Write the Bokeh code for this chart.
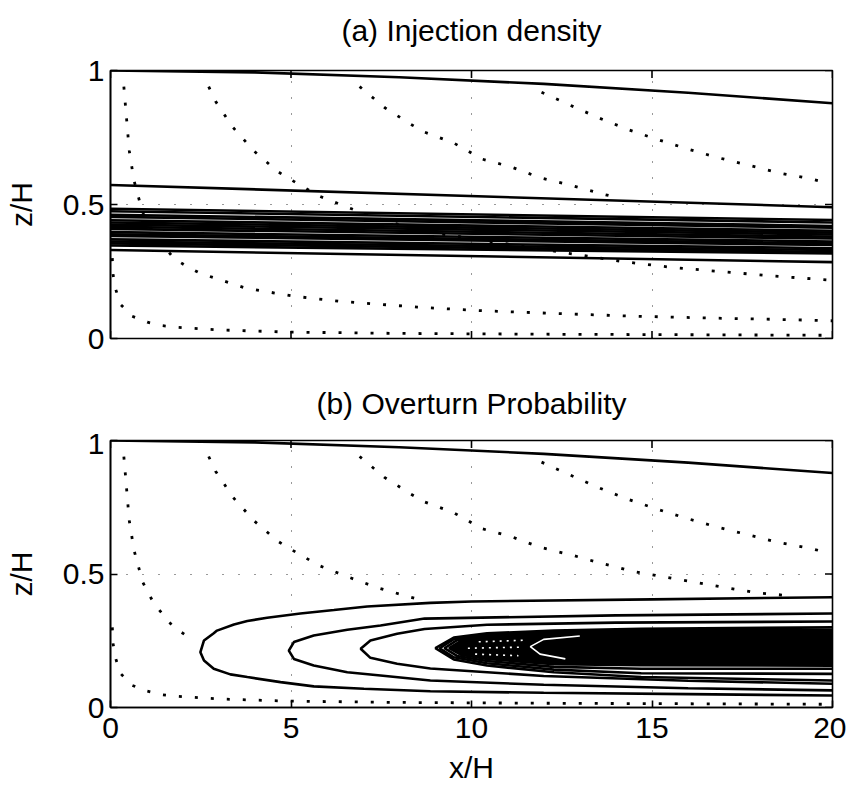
import numpy as np
from bokeh.plotting import figure
from bokeh.layouts import column
from bokeh.models import Range1d, FixedTicker
from bokeh.core.properties import value
from bokeh.embed import file_html
from bokeh.resources import INLINE

FONT = "Liberation Sans"

# ---------------- axes ----------------
x_ticks = [0, 5, 10, 15, 20]
z_ticks = [0, 0.5, 1]
z_tick_labels = {0: "0", 0.5: "0.5", 1: "1"}
x_tick_labels = {0: "0", 5: "5", 10: "10", 15: "15", 20: "20"}
titles = ["(a) Injection density", "(b) Overturn Probability"]

# ---------------- contour shared by both panels (upper boundary) ----------------
top_x = [0, 4, 8, 12, 16, 20]
top_z = [1.0, 0.993, 0.975, 0.950, 0.917, 0.878]

# ---------------- panel (a): injection density contours, height at x=0 and x=20 ----
inj_x = [0, 20]
inj_z0 = [0.573, 0.484, 0.475, 0.462, 0.454, 0.441, 0.433, 0.425, 0.417, 0.409,
          0.397, 0.389, 0.383, 0.370, 0.362, 0.355, 0.347, 0.330]
inj_z20 = [0.490, 0.442, 0.433, 0.420, 0.413, 0.402, 0.395, 0.388, 0.380, 0.373,
           0.362, 0.355, 0.349, 0.337, 0.330, 0.323, 0.317, 0.285]

# ---------------- panel (b): overturn probability contours ----------------
ov1_x = [20, 15, 10, 8.86, 7.11, 6.19, 5.26, 4.34, 3.79, 3.42, 2.95, 2.86, 2.59, 2.49,
         2.59, 2.86, 3.32, 3.79, 4.71, 5.63, 7.02, 8.86, 12, 16, 20]
ov1_z = [0.413, 0.405, 0.397, 0.392, 0.378, 0.365, 0.352, 0.336, 0.324, 0.311, 0.288, 0.278, 0.251, 0.207,
         0.176, 0.145, 0.124, 0.114, 0.095, 0.079, 0.070, 0.061, 0.055, 0.050, 0.045]
ov2_x = [20, 14, 8.7, 7.48, 6.56, 5.63, 5.08, 4.94, 5.08, 5.63, 6.56, 7.48, 8.86, 12, 16, 20]
ov2_z = [0.352, 0.345, 0.333, 0.307, 0.291, 0.270, 0.245, 0.213, 0.182, 0.157, 0.132, 0.120, 0.101, 0.085, 0.072, 0.064]
ov3_x = [20, 14, 10.43, 8.7, 7.94, 7.2, 6.93, 7.2, 7.94, 8.86, 12, 16, 20]
ov3_z = [0.322, 0.318, 0.310, 0.294, 0.276, 0.251, 0.220, 0.186, 0.164, 0.146, 0.118, 0.100, 0.089]
ov4_x = [20, 14.7, 12.28, 10.43, 9.51, 9.0, 9.51, 10.43, 12.28, 14.7, 20]
ov4_z = [0.300, 0.295, 0.288, 0.278, 0.262, 0.222, 0.180, 0.157, 0.132, 0.114, 0.101]
ov5_x = [20, 14.7, 12.28, 10.43, 9.51, 9.12, 9.51, 10.43, 12.28, 14.7, 20]
ov5_z = [0.290, 0.289, 0.283, 0.272, 0.256, 0.222, 0.188, 0.166, 0.142, 0.128, 0.126]
ov6_x = [20, 14.7, 12.28, 10.43, 9.6, 9.25, 9.6, 10.43, 12.28, 14.7, 20]
ov6_z = [0.285, 0.285, 0.280, 0.268, 0.252, 0.222, 0.193, 0.174, 0.152, 0.145, 0.145]
# dense core where contours merge
core_x = [20, 14.7, 12.28, 10.43, 9.7, 9.38, 9.7, 10.43, 12.28, 14.7, 20]
core_z = [0.282, 0.281, 0.277, 0.264, 0.249, 0.222, 0.198, 0.182, 0.162, 0.158, 0.157]
# light gaps inside the core
gap_arc_x = [13.0, 12.0, 11.63, 11.9, 12.6]
gap_arc_z = [0.268, 0.255, 0.228, 0.200, 0.182]
speck_x = [[9.9, 11.4], [10.2, 11.5], [10.1, 11.3]]
speck_z = [[0.222, 0.226], [0.246, 0.252], [0.200, 0.194]]

# ---------------- dotted flow lines ----------------
sA_head_x = [0.37, 0.52, 0.65, 0.89, 1.20, 1.75, 2.10]
sA_head_z = [0.94, 0.70, 0.59, 0.47, 0.39, 0.30, 0.27]
sA_tail_x = [2.47, 3.72, 5.01, 6.32, 7.62, 8.50, 10.23, 12.40, 14.56, 16.73, 18.90, 20.0]
sA_tail_z = [0.244, 0.189, 0.159, 0.139, 0.126, 0.117, 0.104, 0.093, 0.083, 0.076, 0.070, 0.066]
sB_head_x = [2.72, 2.91, 3.39, 3.97, 4.63, 5.03, 5.77, 6.60, 7.43, 8.24, 8.68]
sB_head_z = [0.94, 0.885, 0.788, 0.70, 0.623, 0.59, 0.532, 0.488, 0.447, 0.416, 0.40]
sB_tail_x = [14.2, 15.5, 16.8, 18.1, 20.0]
sB_tail_z = [0.287, 0.266, 0.251, 0.236, 0.217]
sC_head_x = [6.9, 7.59, 8.31, 8.7, 9.1, 9.5, 9.9, 10.28, 11.1, 11.9, 12.8, 13.6, 14.0]
sC_head_z = [0.94, 0.862, 0.80, 0.77, 0.75, 0.73, 0.70, 0.67, 0.64, 0.60, 0.57, 0.54, 0.527]
sC_tail_x = [14.45, 15.3, 16.15, 17.0, 17.9, 18.7]
sC_tail_z = [0.51, 0.49, 0.47, 0.45, 0.43, 0.42]
sD_x = [11.94, 12.71, 13.53, 14.33, 15.14, 15.97, 16.82, 17.66, 18.51, 19.39, 19.8]
sD_z = [0.919, 0.872, 0.823, 0.78, 0.743, 0.708, 0.675, 0.647, 0.618, 0.596, 0.582]
sW_x = [0.05, 0.07, 0.14, 0.28, 0.60, 1.02, 1.43, 1.85, 3.0, 4.9, 8.0, 12.0, 16.0, 20.0]
sW_z = [0.30, 0.24, 0.185, 0.127, 0.083, 0.061, 0.048, 0.042, 0.032, 0.024, 0.019, 0.016, 0.014, 0.012]

LW = 2.6
DOT = dict(line_color="black", line_width=2.8, line_dash="3 13")
TICK = dict(line_color="black", line_width=1.6, size=15, fill_color=None)


def make_title(text):
    """A slim strip above each panel, aligned with the panel frame, carrying its title."""
    t = figure(frame_width=722, frame_height=60,
               x_range=Range1d(0, 20), y_range=Range1d(0, 1),
               x_axis_type=None, y_axis_type=None,
               output_backend="svg", toolbar_location=None,
               min_border_left=110, min_border_right=14,
               min_border_top=0, min_border_bottom=0,
               background_fill_color="white", border_fill_color="white")
    t.outline_line_color = None
    t.grid.visible = False
    t.text(x=[10], y=[0.5], text=[text], text_align="center", text_baseline="middle",
           text_font=value(FONT), text_font_size=value("30px"), text_color="black")
    return t


def make_fig(frame_h, show_x_axis, top_border, bottom_border):
    p = figure(frame_width=722, frame_height=frame_h,
               x_range=Range1d(0, 20), y_range=Range1d(0, 1),
               output_backend="svg", toolbar_location=None,
               min_border_left=110, min_border_right=14,
               min_border_top=top_border, min_border_bottom=bottom_border,
               background_fill_color="white", border_fill_color="white")
    p.outline_line_color = "black"
    p.outline_line_width = 1.6
    p.outline_line_alpha = 1.0

    xa = p.xaxis[0]
    xa.ticker = FixedTicker(ticks=x_ticks)
    xa.major_label_overrides = x_tick_labels
    ya = p.yaxis[0]
    ya.ticker = FixedTicker(ticks=z_ticks)
    ya.major_label_overrides = z_tick_labels
    ya.axis_label = "z/H"
    for ax in (xa, ya):
        ax.major_tick_in = 7
        ax.major_tick_out = 0
        ax.minor_tick_line_color = None
        ax.axis_line_width = 1.6
        ax.major_tick_line_width = 1.6
        ax.major_label_text_font = FONT
        ax.major_label_text_font_size = "30px"
        ax.major_label_text_color = "black"
        ax.axis_label_text_font = FONT
        ax.axis_label_text_font_size = "30px"
        ax.axis_label_text_font_style = "normal"
        ax.axis_label_text_color = "black"
    ya.major_label_standoff = 6
    ya.axis_label_standoff = 22
    xa.major_label_standoff = 10
    xa.axis_label_standoff = 10
    xa.axis_label = "x/H"
    if not show_x_axis:
        xa.visible = False
        # inward ticks on the bottom edge
        p.scatter(x_ticks, [0] * len(x_ticks), marker="dash", angle=np.pi / 2, **TICK)

    # inward ticks on the top and right edges (half of each marker is clipped by the frame)
    p.scatter(x_ticks, [1] * len(x_ticks), marker="dash", angle=np.pi / 2, **TICK)
    p.scatter([20] * len(z_ticks), z_ticks, marker="dash", **TICK)

    p.xgrid.ticker = FixedTicker(ticks=x_ticks)
    p.ygrid.ticker = FixedTicker(ticks=z_ticks)
    for g in (p.xgrid[0], p.ygrid[0]):
        g.grid_line_color = "black"
        g.grid_line_width = 1
        g.grid_line_dash = "1 15"
        g.grid_line_alpha = 0.8
    return p


# ---------------- panel (a) ----------------
ta = make_title(titles[0])
pa = make_fig(268, False, 10, 35)
for xs, zs in ((sA_head_x + sA_tail_x, sA_head_z + sA_tail_z),
               (sB_head_x + sB_tail_x, sB_head_z + sB_tail_z),
               (sC_head_x, sC_head_z), (sD_x, sD_z), (sW_x, sW_z)):
    pa.line(xs, zs, **DOT)
pa.line(top_x, top_z, line_color="black", line_width=LW)
pa.multi_line([inj_x for _ in inj_z0], [[a, b] for a, b in zip(inj_z0, inj_z20)],
              line_color="black", line_width=LW)

# ---------------- panel (b) ----------------
tb = make_title(titles[1])
pb = make_fig(267, True, 7, 80)
for xs, zs in ((sA_head_x, sA_head_z), (sB_head_x, sB_head_z),
               (sC_head_x + sC_tail_x, sC_head_z + sC_tail_z), (sD_x, sD_z), (sW_x, sW_z)):
    pb.line(xs, zs, **DOT)
pb.line(top_x, top_z, line_color="black", line_width=LW)
pb.patch(core_x, core_z, fill_color="black", line_color="black", line_width=LW)
pb.multi_line([ov1_x, ov2_x, ov3_x, ov4_x, ov5_x, ov6_x],
              [ov1_z, ov2_z, ov3_z, ov4_z, ov5_z, ov6_z],
              line_color="black", line_width=LW)
pb.line(gap_arc_x, gap_arc_z, line_color="white", line_width=1.6)
pb.multi_line(speck_x, speck_z, line_color="white", line_width=1.6, line_dash="2 5")

layout = column(ta, pa, tb, pb, spacing=0)
open("out.html", "w").write(file_html(layout, INLINE))
